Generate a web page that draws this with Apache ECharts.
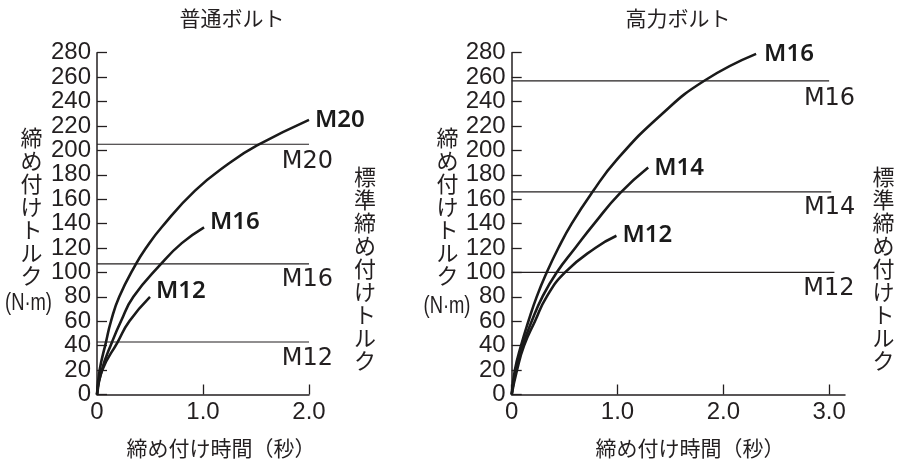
<!DOCTYPE html>
<html lang="ja">
<head>
<meta charset="UTF-8">
<title>締め付けトルク</title>
<script src="https://cdn.jsdelivr.net/npm/echarts@6/dist/echarts.min.js"></script>
<style>
html, body { margin: 0; padding: 0; background: #fff; }
#main { width: 900px; height: 461px; }
</style>
</head>
<body>
<div id="main"></div>
<script>
// 普通ボルト
var normalM20X = [0, 0.025, 0.085, 0.132, 0.21, 0.368, 0.462, 0.61, 0.925, 1.24, 1.51, 2.0];
var normalM20Y = [0, 20, 43, 60, 80, 107, 120, 137, 167, 189, 204, 225];
var normalM16X = [0, 0.045, 0.142, 0.226, 0.343, 0.604, 0.8, 1.01];
var normalM16Y = [0, 20, 43, 60, 80, 107, 124, 137];
var normalM12X = [0, 0.05, 0.195, 0.305, 0.5];
var normalM12Y = [0, 20, 43, 60, 80];
// 標準締め付けトルク (普通)
var normalStdNames = ['M20', 'M16', 'M12'];
var normalStdValues = [205, 107, 43];
var normalStdEnd = [2.0, 2.0, 2.0];

// 高力ボルト
var highM16X = [0, 0.03, 0.088, 0.158, 0.236, 0.331, 0.441, 0.567, 0.756, 0.99, 1.41, 1.82, 2.31];
var highM16Y = [0, 20, 40, 60, 80, 100, 120, 140, 165, 192, 229, 257, 279];
var highM14X = [0, 0.04, 0.104, 0.189, 0.29, 0.425, 0.6, 0.78, 1.024, 1.29];
var highM14Y = [0, 20, 40, 60, 80, 100, 120, 140, 165, 186];
var highM12X = [0, 0.05, 0.117, 0.22, 0.33, 0.504, 0.79, 0.99];
var highM12Y = [0, 20, 40, 60, 80, 100, 120, 130];
// 標準締め付けトルク (高力)
var highStdNames = ['M16', 'M14', 'M12'];
var highStdValues = [257, 166, 100];
var highStdEnd = [3.0, 3.02, 3.05];

var xTicksNormal = [0, 1, 2];
var xTicksHigh = [0, 1, 2, 3];

function zip(xs, ys) {
    return xs.map(function (x, i) { return [x, ys[i]]; });
}

var ink = '#231f20';
var numFont = "'Liberation Sans', Arial, sans-serif";
var jpFont = "'Noto Sans CJK JP', sans-serif";

function xAxisOf(idx, max, ticks) {
    return {
        type: 'value', gridIndex: idx, min: 0, max: max,
        axisLine: { lineStyle: { color: ink, width: 1.5 } },
        axisTick: { inside: true, length: 10, lineStyle: { color: ink, width: 1.3 }, customValues: ticks },
        axisLabel: {
            customValues: ticks, margin: 6, color: ink, fontSize: 24, fontFamily: numFont,
            formatter: function (v) { return v === 0 ? '0' : v.toFixed(1); }
        },
        splitLine: { show: false }
    };
}
function yAxisOf(idx) {
    return {
        type: 'value', gridIndex: idx, min: 0, max: 280, interval: 20,
        axisLine: { show: true, lineStyle: { color: ink, width: 1.5 } },
        axisTick: { show: true, inside: true, length: 10, lineStyle: { color: ink, width: 1.3 } },
        axisLabel: { margin: 6, color: ink, fontSize: 24, fontFamily: numFont },
        splitLine: { show: false }
    };
}

function curve(idx, name, xs, ys, offset) {
    return {
        type: 'line', name: name, xAxisIndex: idx, yAxisIndex: idx,
        data: zip(xs, ys), symbol: 'none', smooth: 0.5,
        lineStyle: { color: '#1a1a1a', width: 2.6 },
        endLabel: {
            show: true, formatter: name, distance: 6, offset: offset,
            color: '#1a1a1a', fontSize: 24, fontWeight: 600, fontFamily: "'Noto Sans', sans-serif"
        },
        z: 3
    };
}

function stdLines(idx, names, values, ends, offsets) {
    return names.map(function (n, i) {
        return {
            type: 'line', name: 'std' + n, xAxisIndex: idx, yAxisIndex: idx,
            data: [[0, values[i]], [ends[i], values[i]]], symbol: 'none',
            lineStyle: { color: ink, width: 1.2 },
            endLabel: {
                show: true, formatter: n, align: 'right', distance: 0, offset: offsets[i],
                color: ink, fontSize: 24, fontFamily: "'DejaVu Sans', sans-serif"
            },
            z: 2
        };
    });
}

function vText(x, y, str) {
    return {
        type: 'text', x: x, y: y,
        style: { text: str.split('').join('\n'), fill: ink, font: '22px ' + jpFont, lineHeight: 23, align: 'center', verticalAlign: 'top' }
    };
}
function hText(x, y, str, size) {
    return {
        type: 'text', x: x, y: y,
        style: { text: str, fill: ink, font: size + 'px ' + jpFont, align: 'center', verticalAlign: 'middle' }
    };
}
function unitText(x, y) {
    return {
        type: 'text', x: x, y: y, scaleX: 0.8,
        style: { text: '(N·m)', fill: ink, font: '23px ' + numFont, align: 'center', verticalAlign: 'middle' }
    };
}

var chart = echarts.init(document.getElementById('main'));
var option = {
    animation: false,
    grid: [
        { left: 97, top: 52.7, width: 212, height: 341.8 },
        { left: 511.7, top: 52.7, width: 333.3, height: 341.8 }
    ],
    xAxis: [xAxisOf(0, 2, xTicksNormal), xAxisOf(1, 3.15, xTicksHigh)],
    yAxis: [yAxisOf(0), yAxisOf(1)],
    series: [
        curve(0, 'M20', normalM20X, normalM20Y, [0, 0]),
        curve(0, 'M16', normalM16X, normalM16Y, [0, -5]),
        curve(0, 'M12', normalM12X, normalM12Y, [0, -6]),
        curve(1, 'M16', highM16X, highM16Y, [2, 0]),
        curve(1, 'M14', highM14X, highM14Y, [0, 1]),
        curve(1, 'M12', highM12X, highM12Y, [0, -1])
    ].concat(
        stdLines(0, normalStdNames, normalStdValues, normalStdEnd, [[24, 18], [24, 16], [24, 17]]),
        stdLines(1, highStdNames, highStdValues, highStdEnd, [[26, 18], [24, 16], [20, 16]])
    ),
    graphic: [
        hText(232, 18, '普通ボルト', 21),
        hText(678, 18, '高力ボルト', 21),
        hText(221, 448, '締め付け時間（秒）', 21),
        hText(690, 448, '締め付け時間（秒）', 21),
        vText(31.5, 126, '締め付けトルク'),
        vText(447.5, 126, '締め付けトルク'),
        unitText(28.5, 304),
        unitText(447, 307),
        vText(365, 165, '標準締め付けトルク'),
        vText(883.5, 165, '標準締め付けトルク')
    ]
};
chart.setOption(option);
</script>
</body>
</html>
